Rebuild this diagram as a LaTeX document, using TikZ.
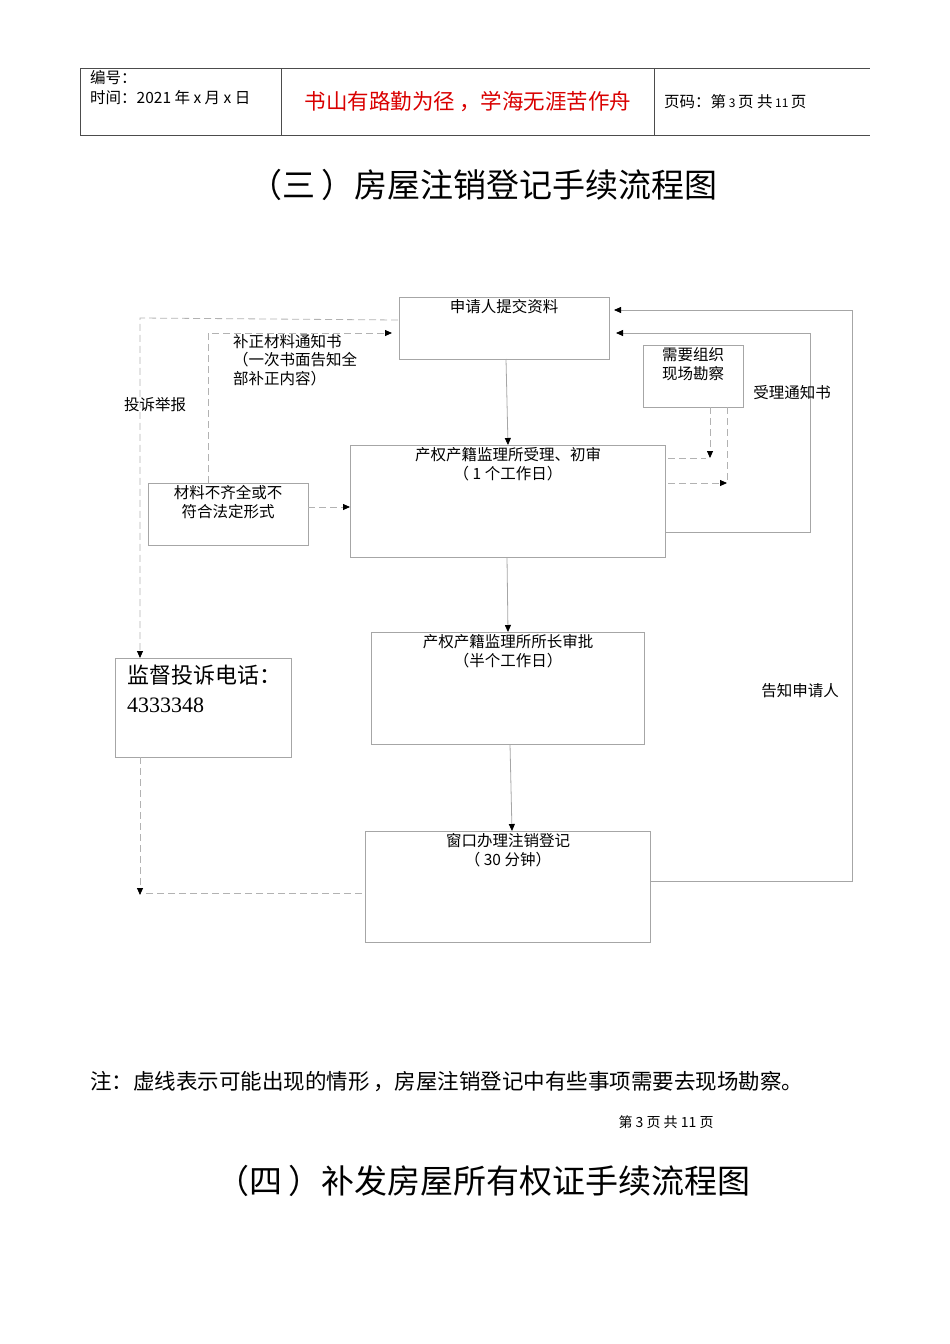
\documentclass[tikz,border=0pt]{standalone}
\usepackage{fontspec}
\setmainfont{Noto Sans CJK SC}
\newfontfamily\serifcjk{Liberation Serif}
\usetikzlibrary{arrows.meta}
\begin{document}
\begin{tikzpicture}[x=1pt,y=-1pt,
  box/.style={draw=black!35,line width=0.6pt},
  sol/.style={draw=black!35,line width=0.8pt,-{Triangle[black,length=7pt,width=6pt]}},
  dsh/.style={draw=black!30,line width=0.8pt,dash pattern=on 7pt off 4pt},
  dsha/.style={dsh,-{Triangle[black,length=7pt,width=6pt]}},
  lbl/.style={font=\fontsize{15.5}{18}\selectfont,align=left,inner sep=0pt},
  ctr/.style={font=\fontsize{15.5}{19}\selectfont,align=center,inner sep=0pt,anchor=north}]
\useasboundingbox (0,0) rectangle (950,1344);
% header
\draw[black!70,line width=0.6pt] (80,68) -- (870,68) (80,135) -- (870,135) (80,68) -- (80,135) (281,68) -- (281,135) (654,68) -- (654,135);
\node[lbl,anchor=west] (h1) at (90,78) {编号：};
\node[lbl,anchor=west] (h2) at (90,98) {时间：2021 年 x 月 x 日};
\node[inner sep=0pt,text=red!85!black,font=\fontsize{21.5}{24}\selectfont] (h3) at (468,102) {书山有路勤为径\,，学海无涯苦作舟};
\node[lbl,anchor=west] (h4) at (664,102) {页码：第\,{\fontsize{12}{13}\selectfont 3}\,页 共\,{\fontsize{12}{13}\selectfont 11}\,页};
\node[inner sep=0pt,font=\fontsize{33}{38}\selectfont] (t1) at (480,185) {\ （三\,）房屋注销登记手续流程图};
% boxes
\draw[box] (399,297) rectangle (609,359); \node[ctr] (a) at (504,299) {申请人提交资料};
\draw[box] (350,445) rectangle (665,557); \node[ctr] (b) at (508,447) {产权产籍监理所受理、初审\\（ 1 个工作日）};
\draw[box] (148,483) rectangle (308,545); \node[ctr] (c) at (228,485) {材料不齐全或不\\符合法定形式};
\draw[box] (643,345) rectangle (743,407); \node[ctr] (d) at (693,347) {需要组织\\现场勘察};
\draw[box] (371,632) rectangle (644,744); \node[ctr] (e) at (508,634) {产权产籍监理所所长审批\\（半个工作日）};
\draw[box] (365,831) rectangle (650,942); \node[ctr] (f) at (508,833) {窗口办理注销登记\\（ 30 分钟）};
\draw[box] (115,658) rectangle (291,757);
\node[inner sep=0pt,anchor=north west,align=left,font=\fontsize{22}{29}\selectfont] (g) at (127,665) {监督投诉电话：\\{\serifcjk 4333348}};
% solid arrows
\coordinate (a1) at (506,359); \coordinate (b0) at (508,445);
\draw[sol] (a1) -- (b0);
\coordinate (b1) at (507,557); \coordinate (e0) at (508,632);
\draw[sol] (b1) -- (e0);
\coordinate (e1) at (510,744); \coordinate (f0) at (512,831);
\draw[sol] (e1) -- (f0);
\coordinate (br) at (665,532); \coordinate (ar1) at (616,333);
\draw[sol] (br) -- (810,532) -- (810,333) -- (ar1);
\coordinate (fr) at (650,881); \coordinate (ar2) at (614,310);
\draw[sol] (fr) -- (852,881) -- (852,310) -- (ar2);
% dashed
\coordinate (cr) at (308,507); \coordinate (bl) at (350,507);
\draw[dsha] (cr) -- (bl);
\coordinate (ct) at (208,483); \coordinate (al) at (392,333);
\draw[dsha] (ct) -- (208,333) -- (al);
\coordinate (ax) at (398,320); \coordinate (gt) at (140,658);
\draw[dsha] (ax) -- (140,318) -- (gt);
\coordinate (gb) at (140,757); \coordinate (gp) at (140,895);
\draw[dsha] (gb) -- (gp);
\coordinate (fl) at (362,893);
\draw[dsh] (fl) -- (146,893);
\coordinate (db1) at (710,407); \coordinate (dp1) at (710,458);
\draw[dsha] (db1) -- (dp1);
\draw[dsh] (668,458) -- (706,458);
\coordinate (db2) at (727,407); \coordinate (dp2) at (727,483);
\draw[dsh] (db2) -- (dp2);
\draw[dsha] (668,483) -- (dp2);
% labels
\node[lbl] (l1) at (792,393) {受理通知书};
\node[lbl] (l2) at (800,691) {告知申请人};
\node[lbl] (l3) at (155,405) {投诉举报};
\node[lbl,anchor=north west,font=\fontsize{15.5}{18.5}\selectfont] (l4) at (233,334) {补正材料通知书\\（一次书面告知全\\部补正内容）};
% note
\node[inner sep=0pt,anchor=west,font=\fontsize{21.5}{24}\selectfont] (n1) at (90,1082) {注：虚线表示可能出现的情形\,，房屋注销登记中有些事项需要去现场勘察。};
\node[inner sep=0pt,font=\fontsize{14}{16}\selectfont] (n2) at (666,1122) {第 3 页 共 11 页};
\node[inner sep=0pt,font=\fontsize{33}{38}\selectfont] (t2) at (480,1181) {\ （四\,）补发房屋所有权证手续流程图};
\end{tikzpicture}
\end{document}
